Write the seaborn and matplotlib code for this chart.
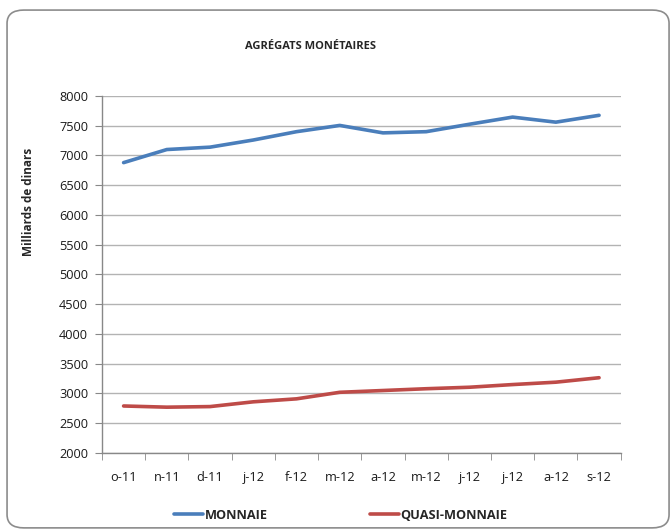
import numpy as np
import pandas as pd
import seaborn as sns
import matplotlib.pyplot as plt
from matplotlib.patches import FancyBboxPatch
from matplotlib.lines import Line2D

# data (milliards de dinars)
months = ['o-11', 'n-11', 'd-11', 'j-12', 'f-12', 'm-12',
          'a-12', 'm-12', 'j-12', 'j-12', 'a-12', 's-12']
monnaie = [6880, 7100, 7140, 7260, 7400, 7505, 7380, 7400, 7525, 7645, 7560, 7675]
quasi_monnaie = [2790, 2770, 2780, 2860, 2910, 3020, 3050, 3080, 3105, 3150, 3190, 3265]
series_names = ['MONNAIE', 'QUASI-MONNAIE']
colors = ['#4a7ebb', '#be4b48']

df = pd.DataFrame({
    'pos': list(range(len(months))) * 2,
    'valeur': monnaie + quasi_monnaie,
    'serie': [series_names[0]] * len(months) + [series_names[1]] * len(months),
})

sns.set_style('white')
plt.rcParams['font.family'] = ['Open Sans', 'DejaVu Sans']

fig = plt.figure(figsize=(6.71, 5.30), dpi=100)
ax = fig.add_axes([0.152, 0.1453, 0.773, 0.6736])

sns.lineplot(data=df, x='pos', y='valeur', hue='serie', palette=colors,
             linewidth=2.6, ax=ax, legend=False)

ax.set_xlim(-0.5, len(months) - 0.5)
ax.set_ylim(2000, 8000)
ax.set_yticks(np.arange(2000, 8001, 500))
ax.yaxis.grid(True, color='#b3b3b3', linewidth=1)
ax.set_axisbelow(True)

ax.set_xticks(range(len(months)))
ax.set_xticklabels(months)
ax.set_xticks(np.arange(-0.5, len(months)), minor=True)
ax.tick_params(axis='x', which='major', length=0, pad=13, labelsize=9.2, labelcolor='#1a1a1a')
ax.tick_params(axis='x', which='minor', length=5, color='#888888', direction='out', bottom=True)
ax.tick_params(axis='y', length=5, color='#888888', direction='out', left=True,
               labelsize=9.2, pad=5, labelcolor='#1a1a1a')

for s in ['top', 'right']:
    ax.spines[s].set_visible(False)
for s in ['left', 'bottom']:
    ax.spines[s].set_color('#888888')
    ax.spines[s].set_linewidth(1)

ax.set_xlabel('')
ax.set_ylabel('')
fig.text(0.042, 0.62, 'Milliards de dinars', rotation=90, ha='center', va='center',
         fontsize=8.5, fontweight='bold')
fig.text(0.462, 0.913, 'AGRÉGATS MONÉTAIRES', ha='center', va='center',
         fontsize=8, fontweight='bold')

handles = [Line2D([0], [0], color=c, linewidth=2.6) for c in colors]
fig.legend(handles, series_names, loc='center', bbox_to_anchor=(0.508, 0.028),
           ncol=2, frameon=False, handlelength=2.3, handletextpad=0.1,
           columnspacing=8.0, prop={'weight': 'bold', 'size': 9.2})

border = FancyBboxPatch((0.0105, 0.004), 0.9866, 0.977,
                        boxstyle='round,pad=0,rounding_size=0.025',
                        transform=fig.transFigure, facecolor='none', edgecolor='#8c8c8c',
                        linewidth=1.2)
fig.patches.append(border)

fig.savefig('out.png', dpi=100)
